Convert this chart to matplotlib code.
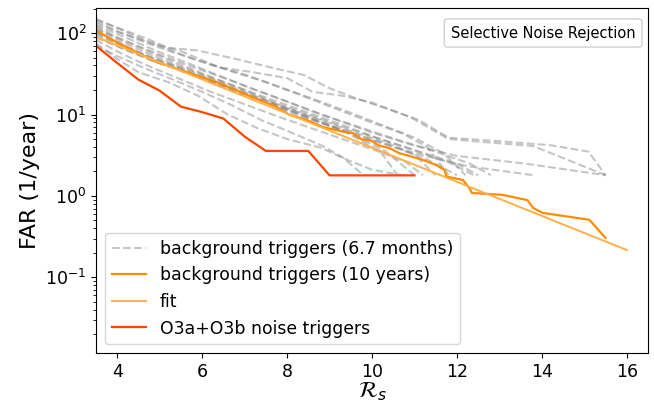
import matplotlib
matplotlib.use("Agg")
import matplotlib.pyplot as plt

# O3a+O3b noise triggers (step-like cumulative FAR)
noise_rs = [3.5, 4.0, 4.5, 5.0, 5.5, 6.0, 6.5, 7.0, 7.5, 8.5, 9.0, 11.0]
noise_far = [69.6, 42.9, 26.8, 19.6, 12.5, 10.7, 8.93, 5.36, 3.57, 3.57, 1.79, 1.79]

# background over 10 years
bg10_rs = [3.5, 3.97, 4.44, 4.91, 5.38, 5.85, 6.32, 6.79, 7.26, 7.74, 8.06, 8.46,
           8.85, 9.32, 9.55, 9.75, 9.99, 10.14, 10.42, 10.65, 10.89, 11.2, 11.51,
           11.71, 11.75, 12.14, 12.3, 12.35, 13.08, 13.66, 13.8, 14.02, 15.12, 15.5]
bg10_far = [108, 78, 59, 44.5, 36.9, 30.5, 25.3, 20, 15.8, 12.5, 9.9, 8.6,
            7.0, 6.15, 5.9, 4.96, 4.77, 4.2, 3.85, 3.34, 3.09, 2.77, 2.4,
            2.08, 1.73, 1.57, 1.24, 1.09, 1.03, 0.89, 0.71, 0.62, 0.51, 0.305]

# exponential fit (straight on log axis)
fit_rs = [3.5, 16.0]
fit_far = [90, 0.217]

# background over 6.7-month chunks
bg_rs = [
    [3.5, 4.1, 4.7, 5.2, 5.9, 6.8, 7.6, 8.4, 9.0, 9.6, 10.3, 11.1, 11.8, 13.0, 14.2, 15.1, 15.5],
    [3.5, 4.0, 4.8, 5.5, 6.4, 7.2, 8.0, 8.6, 9.3, 10.0, 10.9, 11.8, 12.6, 13.8, 15.5],
    [3.5, 4.2, 5.0, 5.8, 6.6, 7.5, 8.3, 9.2, 10.0, 10.9, 12.0, 13.6, 15.5],
    [3.5, 4.1, 4.9, 5.6, 6.4, 7.3, 8.1, 9.0, 9.9, 10.8, 11.7, 12.3, 13.8],
    [3.5, 4.0, 4.6, 5.3, 6.0, 6.8, 7.7, 8.5, 9.4, 10.3, 11.2, 12.0, 12.5],
    [3.5, 4.0, 4.7, 5.5, 6.2, 7.0, 7.9, 8.7, 9.5, 10.3, 11.0, 11.7, 12.2],
    [3.5, 4.2, 4.9, 5.7, 6.5, 7.2, 8.0, 8.9, 9.6, 10.4, 11.0, 11.5],
    [3.5, 4.0, 4.5, 5.2, 5.9, 6.6, 7.3, 8.0, 8.8, 9.4, 10.0, 10.7],
    [3.5, 4.1, 4.8, 5.5, 6.2, 6.9, 7.7, 8.5, 9.3, 10.1, 10.8, 11.2],
    [3.5, 4.0, 4.6, 5.4, 6.1, 6.9, 7.8, 8.6, 9.5, 10.4, 11.3, 12.0],
    [3.5, 4.2, 5.0, 5.7, 6.4, 7.2, 8.0, 8.8, 9.7, 10.6, 11.5, 12.3, 12.8],
    [3.5, 4.0, 4.7, 5.3, 6.0, 6.7, 7.4, 8.1, 8.8, 9.3, 9.8],
    [3.5, 4.0, 4.5, 5.1, 5.8, 6.6, 7.5, 8.3, 9.1, 9.9, 10.7, 11.3, 11.8],
    [3.5, 4.1, 4.8, 5.6, 6.3, 7.1, 7.9, 8.7, 9.5, 10.3, 11.0],
    [3.5, 4.0, 4.6, 5.3, 6.0, 6.8, 7.6, 8.4, 9.2, 10.1, 11.0, 11.8, 12.4],
    [3.5, 4.2, 4.9, 5.6, 6.3, 7.0, 7.8, 8.6, 9.4, 10.2, 10.6],
]
bg_far = [
    [145, 112, 85, 66, 61, 48, 38, 30.5, 21, 16, 12, 8.6, 5.2, 4.7, 4.2, 3.5, 1.8],
    [132, 104, 75, 60, 38, 33, 28, 19, 17, 14, 9.3, 5.0, 4.6, 4.1, 1.8],
    [112, 80, 54, 38, 27, 18, 12.5, 8.5, 6.0, 4.3, 3.1, 2.5, 1.8],
    [98, 70, 47, 34, 23, 15.5, 10.5, 7.2, 5.0, 3.6, 2.7, 2.3, 1.8],
    [122, 88, 64, 45, 32, 22, 14, 10, 6.8, 4.8, 3.4, 2.5, 1.8],
    [140, 105, 75, 54, 41, 31, 21, 15, 10.5, 7.2, 5.2, 3.3, 1.8],
    [88, 62, 45, 32, 23, 17, 12, 8.2, 6.0, 4.4, 3.2, 1.8],
    [75, 48, 33, 25, 17, 10, 6.8, 5.0, 3.9, 2.8, 2.1, 1.8],
    [82, 56, 38, 27, 19, 14, 9.8, 7.0, 5.0, 3.6, 2.6, 1.8],
    [105, 78, 55, 38, 27, 18.5, 12.5, 8.8, 6.0, 4.2, 2.8, 1.8],
    [125, 88, 58, 42, 30, 20.5, 14.5, 10, 7.0, 4.9, 3.5, 2.5, 1.8],
    [70, 52, 36, 27, 19, 13, 8.5, 6.0, 4.2, 3.0, 1.8],
    [150, 115, 88, 66, 48, 35, 25, 17.5, 12, 8.3, 5.9, 4.0, 1.8],
    [92, 66, 46, 33, 24.5, 17, 12, 8.3, 5.8, 3.6, 1.8],
    [115, 83, 60, 42, 31, 22, 15.5, 11, 7.8, 5.2, 3.6, 2.6, 1.8],
    [100, 68, 48, 36, 26.5, 19, 13, 9.0, 6.0, 3.5, 1.8],
]

fig = plt.figure(figsize=(6.54, 4.04), dpi=100)
ax = fig.add_axes([0.1468, 0.1262, 0.844, 0.854])

for i, (xs, ys) in enumerate(zip(bg_rs, bg_far)):
    ax.plot(xs, ys, '--', color='gray', alpha=0.45, lw=1.5,
            label='background triggers (6.7 months)' if i == 0 else None)

ax.plot(bg10_rs, bg10_far, color='darkorange', lw=1.6, label='background triggers (10 years)')
ax.plot(fit_rs, fit_far, color='#ffb04a', lw=1.4, label='fit')
ax.plot(noise_rs, noise_far, color='orangered', lw=1.6, label='O3a+O3b noise triggers')

ax.set_yscale('log')
ax.set_xlim(3.5, 16.5)
ax.set_ylim(0.0118, 203)
ax.set_xticks([4, 6, 8, 10, 12, 14, 16])
ax.tick_params(labelsize=12.5)

ax.set_xlabel(r'$\mathcal{R}_s$', fontsize=16, labelpad=0)
ax.set_ylabel('FAR (1/year)', fontsize=16)

ax.legend(loc='lower left', fontsize=12.4)
ax.text(0.81, 0.9275, 'Selective Noise Rejection', transform=ax.transAxes,
        ha='center', va='center', fontsize=10.5,
        bbox=dict(boxstyle='round,pad=0.45,rounding_size=0.2', fc='white', ec='0.82'))

fig.savefig('out.png', dpi=100)
